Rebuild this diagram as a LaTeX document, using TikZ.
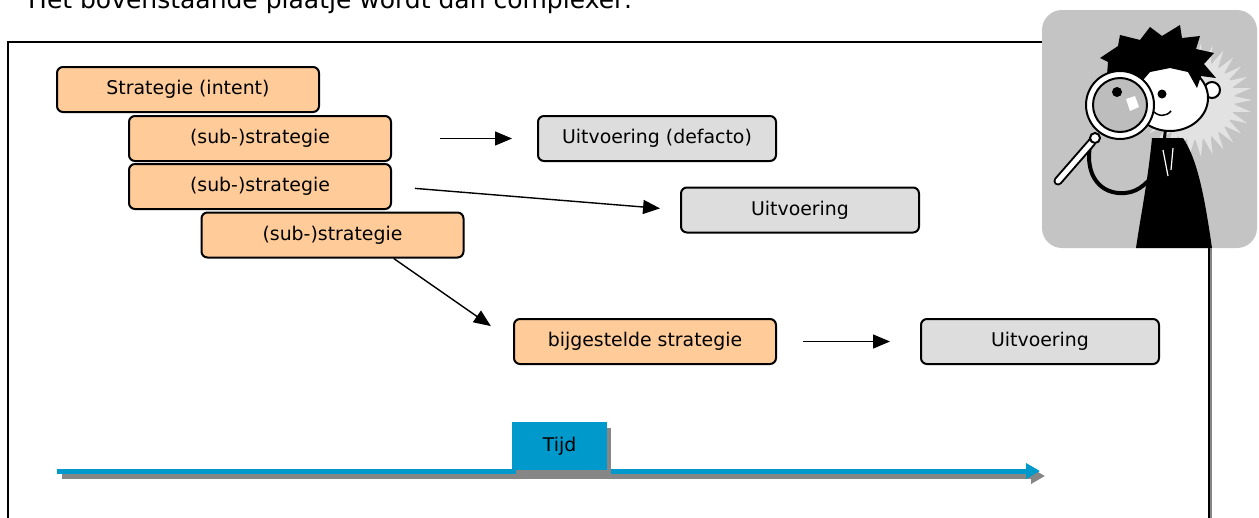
\documentclass[tikz,border=0pt]{standalone}
\usepackage{fontspec}
\setmainfont{DejaVu Sans}
\usetikzlibrary{shapes, arrows, arrows.meta, positioning, shadows}
\definecolor{oranje}{HTML}{FFCC99}
\definecolor{lichtgrijs}{HTML}{DDDDDD}
\definecolor{tijdblauw}{HTML}{0099CC}
\definecolor{schaduw}{HTML}{868686}
\definecolor{plaatgrijs}{HTML}{C4C4C4}
\definecolor{straalgrijs}{HTML}{E2E2E2}
\definecolor{lensgrijs}{HTML}{BDBDBD}
\newcommand{\blokfont}{\fontsize{18.9}{22}\selectfont}
\tikzstyle{blok} = [draw=black, line width=2pt, rectangle, rounded corners=6pt, minimum width=262pt, minimum height=45pt, inner sep=0pt, font=\blokfont]
\tikzstyle{strategie} = [blok, fill=oranje]
\tikzstyle{uitvoering} = [blok, fill=lichtgrijs, minimum width=238pt]
\tikzstyle{pijl} = [line width=1.4pt, -{Triangle[length=17pt, width=14pt]}]
\tikzstyle{kader} = [draw=black, fill=white, line width=2pt, general shadow={fill=schaduw, shadow xshift=3pt, shadow yshift=-3pt}]
\tikzstyle{tijdlijn} = [line width=5pt, -{Triangle[length=14pt, width=15pt]}]
\tikzstyle{tijdblok} = [fill=tijdblauw, minimum width=95pt, minimum height=48pt, inner sep=0pt, font=\blokfont, general shadow={fill=schaduw, shadow xshift=4pt, shadow yshift=-6pt}]

\begin{document}
\begin{tikzpicture}[x=1pt, y=-1pt]
	\useasboundingbox (0,0) rectangle (1259,517);
	\clip (0,0) rectangle (1259,517);
	\node[anchor=base west, inner sep=0pt, font=\fontsize{25}{30}\selectfont] (titel) at (28,8) {Het bovenstaande plaatje wordt dan complexer:};
	\draw[kader] (8,42) rectangle (1209,560);
	% strategieen
	\node[strategie] (intent) at (188,89.5) {Strategie (intent)};
	\node[strategie] (sub1) at (260,138.5) {(sub-)strategie};
	\node[strategie] (sub2) at (260,186.5) {(sub-)strategie};
	\node[strategie] (sub3) at (332.5,235) {(sub-)strategie};
	\node[strategie] (bijgesteld) at (645,341.5) {bijgestelde strategie};
	% uitvoering
	\node[uitvoering] (defacto) at (657,138.5) {Uitvoering (defacto)};
	\node[uitvoering] (uitv1) at (800,210) {Uitvoering};
	\node[uitvoering] (uitv2) at (1040,341.5) {Uitvoering};
	\draw[pijl, shorten <=48pt, shorten >=25pt] (sub1) -- (defacto);
	\draw[pijl, shorten <=23pt, shorten >=20pt] (sub2.east) -- (uitv1.west);
	\draw[pijl, shorten >=27pt] (sub3.-21) -- (bijgesteld.west);
	\draw[pijl, shorten <=26pt, shorten >=30pt] (bijgesteld) -- (uitv2);
	% tijdas
	\coordinate (t0) at (57,471);
	\coordinate (t1) at (1040,471);
	\draw[tijdlijn, schaduw] ([xshift=5pt, yshift=-5pt]t0) -- ([xshift=5pt, yshift=-5pt]t1);
	\draw[tijdlijn, tijdblauw] (t0) -- (t1);
	\node[tijdblok] (tijd) at (559.5,446) {Tijd};
	% plaatje met vergrootglas
	\fill[plaatgrijs, rounded corners=20pt] (1042,10) rectangle (1257,248);
	\fill[straalgrijs] (1195,100) circle (40);
	\foreach \h in {0,12,...,348}
		\fill[straalgrijs, shift={(1195,100)}] (\h-6:38) -- (\h:57) -- (\h+6:38) -- cycle;
	\fill[black] (1152,138) .. controls (1148,180) and (1140,220) .. (1136,248) -- (1212,248) .. controls (1205,200) and (1198,160) .. (1183,138) -- cycle;
	\draw[white, line width=1.2pt] (1163,150) -- (1168,176) (1173,148) -- (1171,170);
	\draw[line width=3pt] (1166,125) -- (1164,142);
	\filldraw[fill=white, draw=black, line width=2pt] (1212,90) circle (8);
	\filldraw[fill=white, draw=black, line width=2pt] (1170,98) ellipse (38 and 33);
	\fill[black] (1106,88) -- (1108,62) -- (1100,58) -- (1118,46) -- (1120,35) -- (1140,40) -- (1150,27) -- (1162,36) -- (1180,25) -- (1182,38) -- (1200,36) -- (1196,49) -- (1214,53) -- (1204,64) -- (1216,78) -- (1201,76) -- (1197,88) -- (1188,72) -- (1170,68) -- (1150,72) -- (1138,86) -- cycle;
	\fill (1162,94) circle (4.5);
	\draw[line width=1.5pt] (1152,110) .. controls (1158,117) and (1166,117) .. (1171,111);
	\draw[line width=4pt] (1090,146) .. controls (1085,175) and (1100,195) .. (1125,193) .. controls (1140,192) and (1150,180) .. (1157,170);
	\filldraw[fill=white, draw=black, line width=2pt] (1120,105) circle (34);
	\filldraw[fill=lensgrijs, draw=black, line width=2pt] (1120,105) circle (27);
	\fill (1117,92) circle (5);
	\fill[white] (1126,99) -- (1135,96) -- (1139,107) -- (1130,111) -- cycle;
	\draw[line width=9pt, line cap=round] (1058,181) -- (1092,142);
	\draw[white, line width=5pt, line cap=round] (1058,181) -- (1092,142);
	\filldraw[fill=white, draw=black, line width=2pt] (1095,138) circle (5);
\end{tikzpicture}
\end{document}
